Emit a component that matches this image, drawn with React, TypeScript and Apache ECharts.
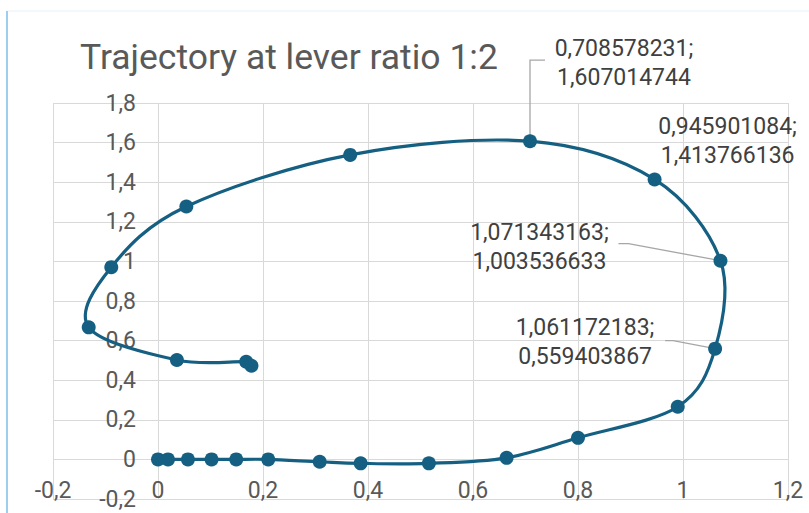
import React, { useEffect, useRef } from 'react';
import * as echarts from 'echarts';

// Trajectory points (x, y) in drawing order
const trajX = [
  0, 0.019, 0.057, 0.102, 0.149, 0.21, 0.308, 0.386, 0.516, 0.664, 0.8, 0.99,
  1.061172183, 1.071343163, 0.945901084, 0.708578231, 0.366, 0.054, -0.089, -0.132,
  0.036, 0.168, 0.178,
];
const trajY = [
  0, 0, 0, 0, 0, 0, -0.012, -0.02, -0.02, 0.008, 0.109, 0.266,
  0.559403867, 1.003536633, 1.413766136, 1.607014744, 1.538, 1.277, 0.971, 0.667,
  0.502, 0.493, 0.473,
];
const labelledIdx = [12, 13, 14, 15];

const xMin = -0.2, xMax = 1.2, yMin = -0.2, yMax = 1.8, step = 0.2;
const titleText = 'Trajectory at lever ratio 1:2';

const fmt = (v: number) => String(Math.round(v * 1e9) / 1e9).replace('.', ',');

// label offsets (px) relative to default 'top' label position
const labelShift: Record<number, [number, number]> = {
  15: [94, -37],
  14: [73, 3],
  13: [-181, 27],
  12: [-130, 34],
};
// leader line shapes relative to the point (px)
const leaderShape: Record<number, number[][]> = {
  15: [[0, 0], [0, -81], [15, -81]],
  13: [[0, 0], [-92, -17], [-102, -17]],
  12: [[0, 0], [-42, -8], [-50, -8]],
};

const COLOR = '#156082';

export default function App() {
  const ref = useRef<HTMLDivElement>(null);
  useEffect(() => {
    document.body.style.margin = '0';
    const chart = echarts.init(ref.current!, null, { renderer: 'svg' });
    const n = trajX.length;
    const pts = trajX.map((x, i) => [x, trajY[i]]);
    const scatterData = trajX.map((x, i) =>
      labelledIdx.includes(i)
        ? { value: [x, trajY[i]], label: { show: true } }
        : { value: [x, trajY[i]] }
    );
    const leaderIdx = labelledIdx.filter((i) => leaderShape[i]);
    const leaderData = leaderIdx.map((i) => [trajX[i], trajY[i]]);
    const font = 'Roboto, "Noto Sans", sans-serif';
    const clamp = (k: number) => Math.max(0, Math.min(n - 1, k));
    chart.setOption({
      animation: false,
      backgroundColor: '#ffffff',
      title: {
        text: titleText,
        left: 75,
        top: 34,
        textStyle: { fontSize: 35.5, fontWeight: 'normal', color: '#595959', fontFamily: font },
      },
      graphic: [
        { type: 'line', shape: { x1: 7, y1: 11, x2: 809, y2: 11 }, style: { stroke: '#e6f0fa', lineWidth: 1 } },
        { type: 'line', shape: { x1: 7, y1: 11, x2: 7, y2: 513 }, style: { stroke: '#9ccfef', lineWidth: 2 } },
      ],
      grid: { left: 53, right: 21, top: 103, bottom: 14, containLabel: false, outerBoundsMode: 'none' },
      xAxis: {
        type: 'value',
        min: xMin,
        max: xMax,
        interval: step,
        offset: -28,
        axisLine: { show: false, onZero: false },
        axisTick: { show: false },
        splitLine: { show: true, lineStyle: { color: '#d9d9d9', width: 1 } },
        axisLabel: {
          margin: 8,
          color: '#595959',
          fontSize: 23,
          fontFamily: font,
          formatter: (v: number) => fmt(v),
        },
      },
      yAxis: {
        type: 'value',
        min: yMin,
        max: yMax,
        interval: step,
        offset: -91,
        axisLine: { show: false, onZero: false },
        axisTick: { show: false },
        splitLine: { show: true, lineStyle: { color: '#d9d9d9', width: 1 } },
        axisLabel: {
          margin: 8,
          color: '#595959',
          fontSize: 23,
          fontFamily: font,
          formatter: (v: number) => fmt(v),
        },
      },
      series: [
        {
          type: 'custom',
          coordinateSystem: 'cartesian2d',
          z: 1,
          silent: true,
          data: leaderData,
          renderItem: (params: any, api: any) => {
            const p = api.coord([api.value(0), api.value(1)]);
            const shape = leaderShape[leaderIdx[params.dataIndex]];
            return {
              type: 'polyline',
              shape: { points: shape.map(([dx, dy]) => [p[0] + dx, p[1] + dy]) },
              style: { stroke: '#a6a6a6', lineWidth: 1.3, fill: null },
            };
          },
        },
        {
          type: 'custom',
          coordinateSystem: 'cartesian2d',
          z: 2,
          silent: true,
          data: pts,
          renderItem: (params: any, api: any) => {
            const i = params.dataIndex;
            if (i >= n - 1) return null;
            const P = (k: number) => api.coord(pts[clamp(k)]);
            const p0 = P(i - 1), p1 = P(i), p2 = P(i + 1), p3 = P(i + 2);
            return {
              type: 'bezierCurve',
              shape: {
                x1: p1[0], y1: p1[1],
                x2: p2[0], y2: p2[1],
                cpx1: p1[0] + (p2[0] - p0[0]) / 6,
                cpy1: p1[1] + (p2[1] - p0[1]) / 6,
                cpx2: p2[0] - (p3[0] - p1[0]) / 6,
                cpy2: p2[1] - (p3[1] - p1[1]) / 6,
              },
              style: { stroke: COLOR, lineWidth: 3.2, fill: null, lineCap: 'round' },
            };
          },
        },
        {
          type: 'scatter',
          z: 3,
          data: scatterData,
          symbol: 'circle',
          symbolSize: 14,
          itemStyle: { color: COLOR, opacity: 1 },
          label: {
            show: false,
            position: 'top',
            distance: 5,
            color: '#404040',
            fontSize: 23,
            lineHeight: 29,
            fontFamily: font,
            align: 'center',
            formatter: (p: any) => fmt(p.value[0]) + ';\n' + fmt(p.value[1]),
          },
          labelLayout: (params: any) => {
            const s = labelShift[params.dataIndex];
            return s ? { dx: s[0], dy: s[1] } : {};
          },
        },
      ],
    });
    return () => chart.dispose();
  }, []);
  return <div ref={ref} style={{ position: 'absolute', left: 0, top: 0, width: 809, height: 513 }} />;
}
